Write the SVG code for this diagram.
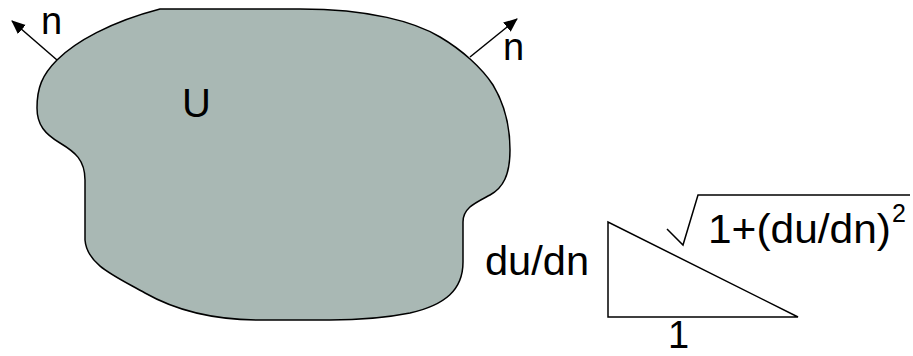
<svg xmlns="http://www.w3.org/2000/svg" width="913" height="356" viewBox="0 0 913 356">
<style>
.t{font-family:"Liberation Sans",Arial,sans-serif;font-size:40px;fill:#000}
.s{font-size:38px}
.ln{fill:none;stroke:#000;stroke-width:1.5}
</style>
<defs>
<marker id="ah" markerUnits="userSpaceOnUse" markerWidth="16" markerHeight="14" refX="13" refY="6" orient="auto">
<path d="M0,0 L14,6 L0,12 Z" fill="#000"/>
</marker>
</defs>
<rect width="913" height="356" fill="#fff"/>
<g id="region-U">
<path d="M160,9 L300,9 C370,9 415,22 440,37 C462,50 482,68 493,85 C505,105 510,125 510,150 C510,175 503,188 490,195 C475,203 463,208 463,222 L463,262 C463,290 445,305 410,313 C385,318 360,320 330,320 L260,320 C210,320 175,310 145,293 C115,276 87,265 85,240 L85,180 C85,160 75,152 60,143 C45,134 37,125 37,108 C37,88 42,75 57,60 C75,42 110,22 160,9 Z" fill="#a9b8b4" stroke="#000" stroke-width="1.5"/>
<text class="t" x="182" y="117">U</text>
</g>
<g id="connectors">
<line class="ln" x1="57" y1="60" x2="12" y2="21" marker-end="url(#ah)"/>
<line class="ln" x1="470" y1="57" x2="517" y2="19" marker-end="url(#ah)"/>
</g>
<g id="normal-left"><text class="t s" x="41" y="34">n</text></g>
<g id="normal-right"><text class="t s" x="503" y="60">n</text></g>
<g id="triangle">
<polygon class="ln" points="608,222 608,317 798,317"/>
<polyline class="ln" points="667,229 683,245 698,195 910,195"/>
<text class="t" x="485" y="275" textLength="104" lengthAdjust="spacingAndGlyphs">du/dn</text>
<text class="t" x="708" y="243" textLength="183" lengthAdjust="spacingAndGlyphs">1+(du/dn)</text>
<text class="t" x="892" y="222" style="font-size:25px">2</text>
<text class="t s" x="668" y="348">1</text>
</g>
</svg>
